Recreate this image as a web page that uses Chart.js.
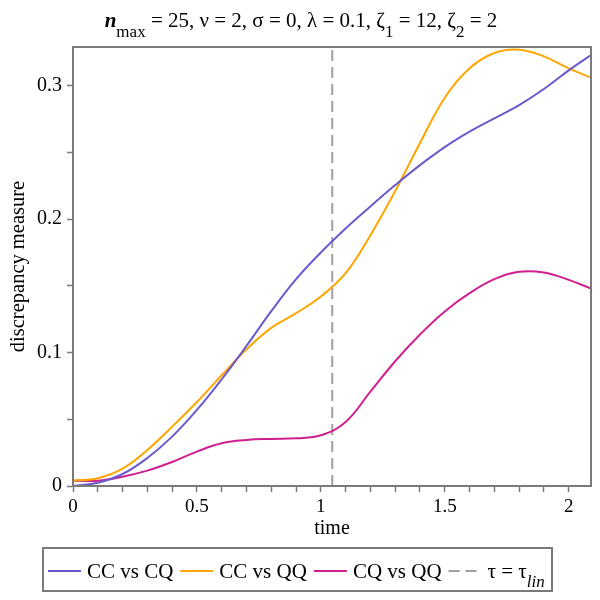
<!DOCTYPE html>
<html lang="en">
<head>
    <meta charset="UTF-8">
    <title>Discrepancy measure vs time</title>
    <script src="https://cdn.jsdelivr.net/npm/chart.js"></script>
    <style>
        html, body { margin: 0; padding: 0; background: #fff; }
        #wrap { width: 600px; height: 600px; }
    </style>
</head>
<body>
    <div id="wrap"><canvas id="discChart" width="600" height="600"></canvas></div>
    <script>
        // values
        const timeValues = [0, 0.1, 0.2, 0.3, 0.4, 0.5, 0.6, 0.7, 0.8, 0.9, 1.0,
                            1.1, 1.2, 1.3, 1.4, 1.5, 1.6, 1.7, 1.8, 1.9, 2.0, 2.09];
        const ccVsCq = [0.000, 0.0025, 0.009, 0.021, 0.037, 0.057, 0.080, 0.105, 0.131, 0.155, 0.175,
                        0.193, 0.2095, 0.2255, 0.2405, 0.254, 0.2655, 0.2755, 0.2855, 0.2975, 0.3115, 0.323];
        const ccVsQq = [0.004, 0.0058, 0.013, 0.027, 0.0445, 0.063, 0.083, 0.1025, 0.1185, 0.1295, 0.142,
                        0.1595, 0.188, 0.221, 0.257, 0.291, 0.313, 0.3245, 0.327, 0.322, 0.313, 0.306];
        const cqVsQq = [0.004, 0.004, 0.007, 0.0115, 0.018, 0.0258, 0.032, 0.0345, 0.0353, 0.0358, 0.038,
                        0.048, 0.0708, 0.0935, 0.1135, 0.1308, 0.1445, 0.155, 0.1605, 0.160, 0.1545, 0.148];
        const tauLin = 1.046;
        const xMax = 2.09;
        const yMax = 0.329;
        const xLabelTicks = [0, 0.5, 1, 1.5, 2];
        const yLabelTicks = [0, 0.1, 0.2, 0.3];

        const FONT = '"Liberation Serif", "Times New Roman", serif';
        const AXIS_GREY = '#7a7a7a';

        const toPoints = (ys) => ys.map((y, i) => ({ x: timeValues[i], y: y }));

        // evenly spaced tick marks (labels only on the listed values)
        const stepTicks = (step, last) => {
            const out = [];
            for (let i = 0; i * step <= last + 1e-9; i++) out.push({ value: +(i * step).toFixed(4) });
            return out;
        };

        // draws a run of text pieces, some of them subscripts
        function drawRich(ctx, parts, x, baseline, measureOnly) {
            let cx = x;
            parts.forEach(p => {
                ctx.font = p.font;
                const w = ctx.measureText(p.t).width;
                if (!measureOnly) {
                    ctx.fillText(p.t, cx, baseline + (p.sub ? p.dy : 0));
                }
                cx += w;
            });
            return cx - x;
        }

        const titleParts = [
            { t: 'n', font: `italic bold 21px ${FONT}` },
            { t: 'max', font: `17px ${FONT}`, sub: true, dy: 10 },
            { t: ' = 25, \u03bd = 2, \u03c3 = 0, \u03bb = 0.1, \u03b6', font: `21px ${FONT}` },
            { t: '1', font: `17px ${FONT}`, sub: true, dy: 10 },
            { t: ' = 12, \u03b6', font: `21px ${FONT}` },
            { t: '2', font: `17px ${FONT}`, sub: true, dy: 10 },
            { t: ' = 2', font: `21px ${FONT}` }
        ];

        const titlePlugin = {
            id: 'richTitle',
            afterDraw(chart) {
                const ctx = chart.ctx;
                ctx.save();
                ctx.fillStyle = '#000';
                ctx.textBaseline = 'alphabetic';
                const w = drawRich(ctx, titleParts, 0, 0, true);
                drawRich(ctx, titleParts, 301 - w / 2, 27, false);
                ctx.restore();
            }
        };

        // plot frame on all four sides
        const framePlugin = {
            id: 'frame',
            afterDatasetsDraw(chart) {
                const { ctx, chartArea: a } = chart;
                ctx.save();
                ctx.strokeStyle = AXIS_GREY;
                ctx.lineWidth = 2;
                ctx.strokeRect(a.left, a.top, a.right - a.left, a.bottom - a.top);
                ctx.restore();
            }
        };

        // boxed legend below the axis, with the subscript in the last label
        const legendPlugin = {
            id: 'boxLegend',
            afterDraw(chart) {
                const ctx = chart.ctx;
                const boxL = 43, boxT = 548, boxR = 552, boxB = 591;
                const midY = 571, swatch = 33;
                ctx.save();
                ctx.strokeStyle = AXIS_GREY;
                ctx.lineWidth = 2;
                ctx.strokeRect(boxL, boxT, boxR - boxL, boxB - boxT);
                ctx.fillStyle = '#000';
                ctx.textBaseline = 'alphabetic';
                let x = 48;
                chart.data.datasets.forEach(ds => {
                    ctx.strokeStyle = ds.borderColor;
                    ctx.lineWidth = 2;
                    ctx.setLineDash(ds.borderDash || []);
                    ctx.beginPath();
                    ctx.moveTo(x, midY);
                    ctx.lineTo(x + swatch, midY);
                    ctx.stroke();
                    ctx.setLineDash([]);
                    x += swatch + 6;
                    const parts = ds.richLabel || [{ t: ds.label, font: `21px ${FONT}` }];
                    x += drawRich(ctx, parts, x, 578, false) + 7;
                });
                ctx.restore();
            }
        };

        const ctx = document.getElementById('discChart').getContext('2d');
        const chart = new Chart(ctx, {
            type: 'line',
            data: {
                datasets: [
                    {
                        label: 'CC vs CQ',
                        data: toPoints(ccVsCq),
                        borderColor: '#6a5acd',
                        borderWidth: 2,
                        pointRadius: 0,
                        tension: 0.4,
                        fill: false
                    },
                    {
                        label: 'CC vs QQ',
                        data: toPoints(ccVsQq),
                        borderColor: '#ffa500',
                        borderWidth: 2,
                        pointRadius: 0,
                        tension: 0.4,
                        fill: false
                    },
                    {
                        label: 'CQ vs QQ',
                        data: toPoints(cqVsQq),
                        borderColor: '#d0208f',
                        borderWidth: 2,
                        pointRadius: 0,
                        tension: 0.4,
                        fill: false
                    },
                    {
                        label: '\u03c4 = \u03c4lin',
                        richLabel: [
                            { t: '\u03c4 = \u03c4', font: `21px ${FONT}` },
                            { t: 'lin', font: `italic 17px ${FONT}`, sub: true, dy: 9 }
                        ],
                        data: [{ x: tauLin, y: 0 }, { x: tauLin, y: yMax }],
                        borderColor: '#a0a0a0',
                        borderWidth: 2,
                        borderDash: [11, 6],
                        pointRadius: 0,
                        fill: false
                    }
                ]
            },
            options: {
                responsive: false,
                animation: false,
                devicePixelRatio: 1,
                layout: { padding: { left: 0, right: 9, top: 47, bottom: 60 } },
                plugins: {
                    legend: { display: false },
                    title: { display: false },
                    tooltip: { enabled: false }
                },
                scales: {
                    x: {
                        type: 'linear',
                        min: 0,
                        max: xMax,
                        afterFit: (scale) => { scale.height = 54; },
                        afterBuildTicks: (scale) => { scale.ticks = stepTicks(0.1, 2.0); },
                        ticks: {
                            autoSkip: false,
                            maxRotation: 0,
                            padding: 4,
                            color: '#000',
                            font: { family: FONT, size: 19 },
                            callback: (v) => {
                                const hit = xLabelTicks.find(t => Math.abs(t - v) < 1e-6);
                                return hit === undefined ? '' : String(hit);
                            }
                        },
                        grid: {
                            drawOnChartArea: false,
                            drawTicks: true,
                            tickLength: 6,
                            tickColor: AXIS_GREY,
                            tickWidth: 1.5
                        },
                        border: { display: true, color: AXIS_GREY, width: 2 },
                        title: {
                            display: true,
                            text: 'time',
                            color: '#000',
                            font: { family: FONT, size: 20, lineHeight: 1.1 },
                            padding: { top: 0, bottom: 0 }
                        }
                    },
                    y: {
                        type: 'linear',
                        min: 0,
                        max: yMax,
                        afterFit: (scale) => { scale.width = 73; },
                        afterBuildTicks: (scale) => { scale.ticks = stepTicks(0.05, 0.3); },
                        ticks: {
                            autoSkip: false,
                            padding: 5,
                            color: '#000',
                            font: { family: FONT, size: 20 },
                            callback: (v) => {
                                const hit = yLabelTicks.find(t => Math.abs(t - v) < 1e-6);
                                return hit === undefined ? '' : String(hit);
                            }
                        },
                        grid: {
                            drawOnChartArea: false,
                            drawTicks: true,
                            tickLength: 6,
                            tickColor: AXIS_GREY,
                            tickWidth: 1.5
                        },
                        border: { display: true, color: AXIS_GREY, width: 2 },
                        title: {
                            display: true,
                            text: 'discrepancy measure',
                            color: '#000',
                            font: { family: FONT, size: 20.5, lineHeight: 1.1 },
                            padding: { top: 7, bottom: 0 }
                        }
                    }
                }
            },
            plugins: [titlePlugin, framePlugin, legendPlugin]
        });
    </script>
</body>
</html>
